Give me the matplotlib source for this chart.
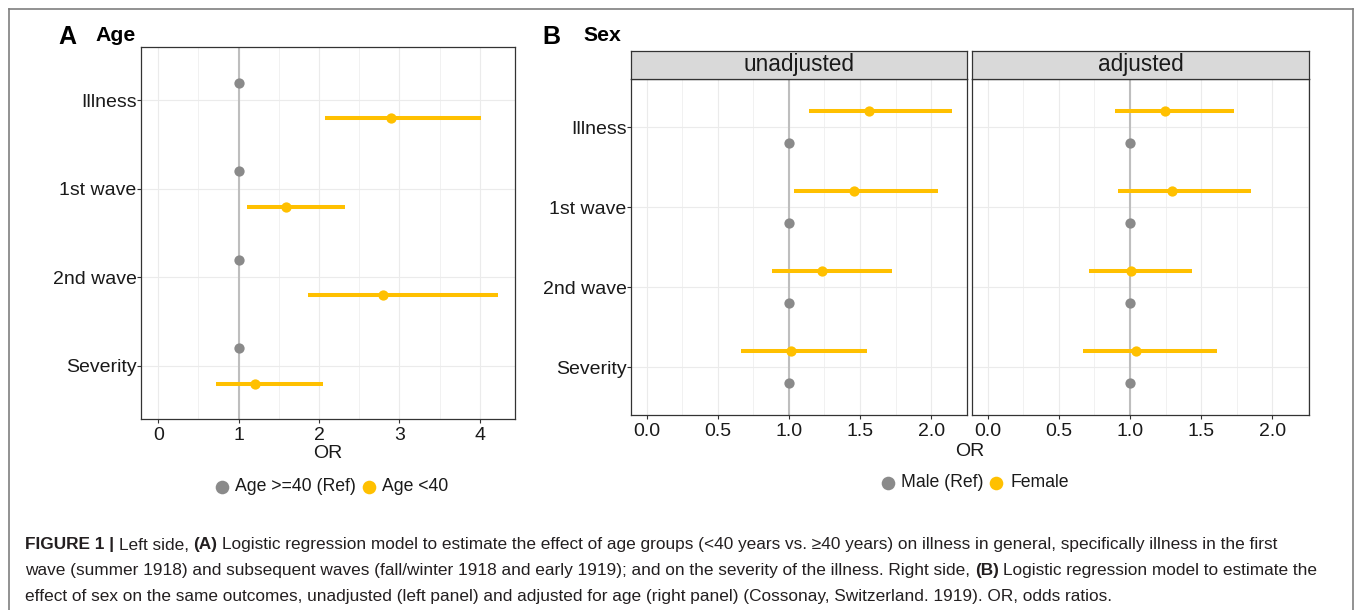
import matplotlib
matplotlib.use("Agg")
import matplotlib.pyplot as plt
from matplotlib.lines import Line2D
from matplotlib.ticker import FormatStrFormatter
import numpy as np

# ---------------- data ----------------
outcomes = ["Illness", "1st wave", "2nd wave", "Severity"]

age_ref_or = [1.0, 1.0, 1.0, 1.0]
age_young_or = [2.89, 1.59, 2.80, 1.20]
age_young_lo = [2.08, 1.10, 1.86, 0.72]
age_young_hi = [4.02, 2.32, 4.22, 2.05]

sex_ref_or = [1.0, 1.0, 1.0, 1.0]
unadj_or = [1.563, 1.456, 1.234, 1.014]
unadj_lo = [1.142, 1.037, 0.883, 0.664]
unadj_hi = [2.147, 2.046, 1.727, 1.551]
adj_or = [1.244, 1.298, 1.010, 1.040]
adj_lo = [0.894, 0.916, 0.711, 0.672]
adj_hi = [1.730, 1.848, 1.437, 1.610]

age_legend = ["Age >=40 (Ref)", "Age <40"]
sex_legend = ["Male (Ref)", "Female"]
facet_labels = ["unadjusted", "adjusted"]
age_xticks = [0, 1, 2, 3, 4]
sex_xticks = [0.0, 0.5, 1.0, 1.5, 2.0]

caption_lines = [
    [("FIGURE 1 |", True), ("Left side,", False), ("(A)", True),
     ("Logistic regression model to estimate the effect of age groups (<40 years vs. \u226540 years) on illness in general, specifically illness in the first", False)],
    [("wave (summer 1918) and subsequent waves (fall/winter 1918 and early 1919); and on the severity of the illness. Right side,", False),
     ("(B)", True), ("Logistic regression model to estimate the", False)],
    [("effect of sex on the same outcomes, unadjusted (left panel) and adjusted for age (right panel) (Cossonay, Switzerland. 1919). OR, odds ratios.", False)],
]

# ---------------- style ----------------
FONT = ["Liberation Sans", "DejaVu Sans"]
plt.rcParams["font.family"] = FONT
GRAY = "#8A8A8A"
YEL = "#FFC000"
TXT = "#1A1A1A"
W, H = 1355, 610
TICK_SIZE = 14

fig = plt.figure(figsize=(W / 100, H / 100), dpi=100)
fig.patch.set_facecolor("white")


def fx(px):
    return px / W


def fy(py):
    return 1 - py / H


def add_axes(l, t, r, b):
    return fig.add_axes([l / W, 1 - b / H, (r - l) / W, (b - t) / H])


def glims(lo_vals, hi_vals):
    lo = min(0.0, min(lo_vals))
    hi = max(hi_vals)
    pad = 0.05 * (hi - lo)
    return lo - pad, hi + pad


def style(ax, xmaj, xmin, show_y=True):
    ax.set_facecolor("white")
    for s in ax.spines.values():
        s.set_color("#333333")
        s.set_linewidth(0.9)
    ax.set_xticks(xmaj)
    ax.set_xticks(xmin, minor=True)
    ax.grid(which="major", color="#EBEBEB", lw=0.8)
    ax.grid(which="minor", axis="x", color="#EBEBEB", lw=0.5)
    ax.set_axisbelow(True)
    ax.tick_params(which="minor", length=0)
    ax.tick_params(which="major", length=3.2, width=0.8, color="#333333",
                   labelsize=TICK_SIZE, labelcolor=TXT)
    ax.tick_params(axis="x", which="major", pad=2.2)
    ax.tick_params(axis="y", which="major", pad=0.2)
    if not show_y:
        ax.tick_params(axis="y", which="both", length=0, labelleft=False)


def draw_forest(ax, ref_vals, est, lo, hi, ref_offset, est_offset):
    y = np.arange(len(outcomes))
    ax.axvline(1.0, color="#BEBEBE", lw=1.5, zorder=1.5)
    ax.hlines(y + est_offset, lo, hi, color=YEL, lw=2.9, capstyle="butt", zorder=2)
    ax.plot(ref_vals, y + ref_offset, "o", color=GRAY, ms=7.4, mec="none", zorder=3)
    ax.plot(est, y + est_offset, "o", color=YEL, ms=7.4, mec="none", zorder=3)
    ax.set_yticks(y)
    ax.set_yticklabels(outcomes)
    ax.set_ylim(len(outcomes) - 0.4, -0.6)


# ---------------- panel A ----------------
axA = add_axes(141.3, 47.3, 514.5, 419.0)
style(axA, age_xticks, [0.5, 1.5, 2.5, 3.5])
draw_forest(axA, age_ref_or, age_young_or, age_young_lo, age_young_hi, -0.2, 0.2)
axA.set_xlim(*glims(age_young_lo, age_young_hi))

# ---------------- panel B ----------------
xl_sex = glims(unadj_lo + adj_lo, unadj_hi + adj_hi)
b_boxes = [(631.3, 967.3), (972.3, 1308.7)]
b_data = [(unadj_or, unadj_lo, unadj_hi), (adj_or, adj_lo, adj_hi)]
for i, ((l, r), (est, lo, hi)) in enumerate(zip(b_boxes, b_data)):
    ax = add_axes(l, 79.3, r, 415.0)
    style(ax, sex_xticks, [0.25, 0.75, 1.25, 1.75, 2.25], show_y=(i == 0))
    draw_forest(ax, sex_ref_or, est, lo, hi, 0.2, -0.2)
    ax.set_xlim(*xl_sex)
    ax.xaxis.set_major_formatter(FormatStrFormatter("%.1f"))
    # strip
    st = add_axes(l, 50.7, r, 79.3)
    st.set_facecolor("#D9D9D9")
    st.set_xticks([])
    st.set_yticks([])
    for s in st.spines.values():
        s.set_color("#333333")
        s.set_linewidth(0.9)
    st.text(0.5, 0.5, facet_labels[i], transform=st.transAxes, ha="center",
            va="center", fontsize=16.3, color=TXT)

# ---------------- axis titles ----------------
fig.text(fx(327.8), fy(454.0), "OR", ha="center", va="center", fontsize=14, color=TXT)
fig.text(fx(970.0), fy(451.5), "OR", ha="center", va="center", fontsize=14, color=TXT)

# ---------------- panel titles ----------------
fig.text(fx(58.0), fy(44.0), "A", fontsize=18, fontweight="bold", va="baseline", color="black")
fig.text(fx(95.5), fy(40.7), "Age", fontsize=15.3, fontweight="bold", va="baseline", color="black")
fig.text(fx(542.5), fy(44.0), "B", fontsize=18, fontweight="bold", va="baseline", color="black")
fig.text(fx(583.0), fy(40.7), "Sex", fontsize=15.3, fontweight="bold", va="baseline", color="black")

# ---------------- legends ----------------
def legend_item(xdot, xtext, y, color, label):
    fig.add_artist(Line2D([fx(xdot)], [fy(y)], marker="o", color=color, ms=9.8,
                          mec="none", transform=fig.transFigure))
    fig.text(fx(xtext), fy(y), label, ha="left", va="center", fontsize=12.7, color=TXT)


legend_item(221.5, 235.0, 486.5, GRAY, age_legend[0])
legend_item(369.0, 382.3, 486.5, YEL, age_legend[1])
legend_item(887.7, 901.0, 482.5, GRAY, sex_legend[0])
legend_item(996.0, 1010.0, 482.5, YEL, sex_legend[1])

# ---------------- outer frame ----------------
fc = "#7F7F7F"
fig.add_artist(Line2D([fx(9), fx(1353)], [fy(9), fy(9)], color=fc, lw=1.2, transform=fig.transFigure))
fig.add_artist(Line2D([fx(9), fx(9)], [fy(9), fy(615)], color=fc, lw=1.2, transform=fig.transFigure))
fig.add_artist(Line2D([fx(1353), fx(1353)], [fy(9), fy(615)], color=fc, lw=1.2, transform=fig.transFigure))

# ---------------- caption ----------------
renderer = fig.canvas.get_renderer()


def seg_width(text, bold, size):
    t = fig.text(0, 0, text, fontsize=size, fontweight="bold" if bold else "normal")
    w = t.get_window_extent(renderer).width
    t.remove()
    return w


def line_width(segs, size):
    sp = 0.278 * size * 100 / 72
    return sum(seg_width(s, b, size) for s, b in segs) + sp * (len(segs) - 1)


base = 12.5
target = 1322.0 - 25.0
cap_size = base * target / line_width(caption_lines[1], base)

baselines = [549.5, 575.0, 600.5]
for segs, yb in zip(caption_lines, baselines):
    x = 25.0
    sp = 0.278 * cap_size * 100 / 72
    for s, b in segs:
        t = fig.text(fx(x), fy(yb), s, fontsize=cap_size, fontweight="bold" if b else "normal",
                     va="baseline", ha="left", color="#231F20")
        x += t.get_window_extent(renderer).width + sp

fig.savefig("out.png", dpi=100, facecolor="white")
